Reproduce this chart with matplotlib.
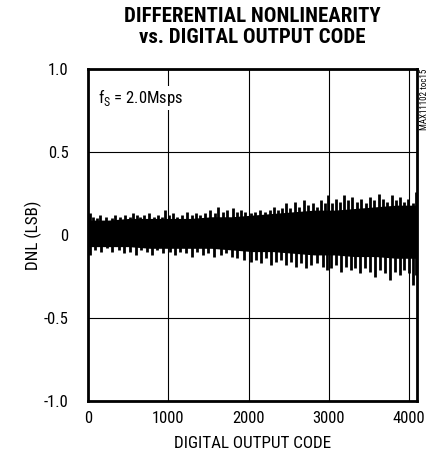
"""
DNL vs. digital output code (MAX11102 toc15).
"""

import matplotlib

matplotlib.use("Agg")
import matplotlib.pyplot as plt
from matplotlib import font_manager

# core band of the DNL trace (LSB), sampled every 256 codes
core_code = [0, 256, 512, 768, 1024, 1280, 1536, 1792, 2048, 2304, 2560, 2816, 3072, 3328, 3584, 3840, 4095]
core_hi = [0.09, 0.09, 0.10, 0.10, 0.10, 0.10, 0.11, 0.11, 0.12, 0.13, 0.14, 0.15, 0.15, 0.16, 0.17, 0.18, 0.18]
core_lo = [-0.07, -0.07, -0.07, -0.08, -0.08, -0.08, -0.08, -0.09, -0.10, -0.10, -0.11, -0.12, -0.12, -0.13, -0.13, -0.14, -0.14]

# positive spikes (code, LSB)
up_code = [20, 60, 110, 150, 230, 300, 330, 400, 460, 520, 560, 610, 650, 700, 760, 820, 870, 920, 960,
           1010, 1060, 1110, 1170, 1230, 1290, 1340, 1400, 1460, 1520, 1580, 1620, 1680, 1730, 1800, 1850, 1900, 1960,
           2030, 2080, 2140, 2200, 2260, 2310, 2360, 2420, 2470, 2520, 2580, 2630, 2690, 2740, 2800, 2850, 2900, 2950, 2990,
           3040, 3090, 3140, 3190, 3240, 3290, 3350, 3400, 3460, 3510, 3560, 3620, 3670, 3720, 3780, 3830, 3880, 3940, 3990, 4050, 4090]
up_val = [0.13, 0.11, 0.10, 0.12, 0.11, 0.10, 0.12, 0.11, 0.12, 0.11, 0.13, 0.12, 0.11, 0.12, 0.13, 0.11, 0.12, 0.11, 0.15,
          0.12, 0.13, 0.11, 0.12, 0.14, 0.12, 0.13, 0.12, 0.13, 0.15, 0.13, 0.17, 0.14, 0.15, 0.16, 0.14, 0.15, 0.14,
          0.13, 0.14, 0.15, 0.14, 0.15, 0.17, 0.15, 0.16, 0.19, 0.16, 0.20, 0.17, 0.21, 0.18, 0.19, 0.17, 0.21, 0.19, 0.24,
          0.19, 0.22, 0.20, 0.24, 0.21, 0.23, 0.20, 0.22, 0.19, 0.23, 0.21, 0.25, 0.22, 0.20, 0.24, 0.21, 0.23, 0.20, 0.22, 0.19, 0.26]

# negative spikes (code, LSB)
dn_code = [30, 90, 160, 240, 300, 380, 450, 520, 600, 660, 730, 800, 860, 930,
           1020, 1080, 1150, 1220, 1300, 1360, 1430, 1500, 1570, 1650, 1720, 1790, 1860, 1940,
           2030, 2090, 2150, 2220, 2280, 2340, 2400, 2460, 2530, 2590, 2650, 2720, 2780, 2850, 2920, 2980,
           3030, 3090, 3150, 3210, 3270, 3330, 3390, 3450, 3510, 3570, 3640, 3700, 3760, 3820, 3880, 3940, 4000, 4050, 4090]
dn_val = [-0.12, -0.09, -0.10, -0.08, -0.10, -0.09, -0.11, -0.10, -0.12, -0.09, -0.10, -0.12, -0.09, -0.11,
          -0.10, -0.12, -0.10, -0.11, -0.13, -0.10, -0.12, -0.11, -0.13, -0.12, -0.11, -0.13, -0.14, -0.15,
          -0.16, -0.15, -0.17, -0.14, -0.18, -0.16, -0.15, -0.18, -0.16, -0.19, -0.17, -0.20, -0.18, -0.17, -0.19, -0.21,
          -0.20, -0.18, -0.22, -0.19, -0.21, -0.20, -0.23, -0.20, -0.22, -0.25, -0.21, -0.23, -0.27, -0.22, -0.24, -0.21, -0.23, -0.30, -0.24]

x_ticks = [0, 1000, 2000, 3000, 4000]
y_ticks = [-1.0, -0.5, 0, 0.5, 1.0]
y_ticklabels = ["-1.0", "-0.5", "0", "0.5", "1.0"]

# a narrow face if one is there
names = {f.name for f in font_manager.fontManager.ttflist}
narrow = [n for n in ["Liberation Sans Narrow", "Roboto Condensed", "Open Sans Condensed", "Noto Sans Condensed"] if n in names]
plt.rcParams["font.family"] = narrow + ["DejaVu Sans"]
plt.rcParams["font.stretch"] = "condensed"

fig = plt.figure(figsize=(4.30, 4.62), dpi=100)
ax = fig.add_axes([0.2047, 0.132, 0.765, 0.7186])

ax.fill_between(core_code, core_lo, core_hi, color="black", lw=0, zorder=3)
ax.vlines(up_code, 0, up_val, color="black", lw=2.0, zorder=3)
ax.vlines(dn_code, 0, dn_val, color="black", lw=2.0, zorder=3)

ax.set_xlim(0, 4096)
ax.set_ylim(-1.0, 1.0)
ax.set_xticks(x_ticks)
ax.set_yticks(y_ticks)
ax.set_yticklabels(y_ticklabels)
ax.tick_params(length=0, labelsize=12)
ax.tick_params(axis="x", pad=7)
ax.tick_params(axis="y", pad=14)
ax.grid(True, color="black", lw=0.8, zorder=1)
ax.set_axisbelow(True)
for s in ax.spines.values():
    s.set_linewidth(2.0)

ax.set_xlabel("DIGITAL OUTPUT CODE", fontsize=12.3, labelpad=7.5)
ax.set_ylabel("DNL (LSB)", fontsize=12.3, labelpad=1)

ax.text(0.03, 0.945, r"f$_\mathregular{S}$ = 2.0Msps", transform=ax.transAxes,
        fontsize=12, va="top", ha="left",
        bbox=dict(facecolor="white", edgecolor="none", pad=1))

fig.text(0.5872, 0.985, "DIFFERENTIAL NONLINEARITY\nvs. DIGITAL OUTPUT CODE",
         ha="center", va="top", fontsize=15, fontweight="heavy", linespacing=1.15)

fig.text(0.998, 0.852, "MAX11102 toc15", rotation=90, ha="right", va="top", fontsize=6.5)

fig.savefig("out.png", dpi=100)
